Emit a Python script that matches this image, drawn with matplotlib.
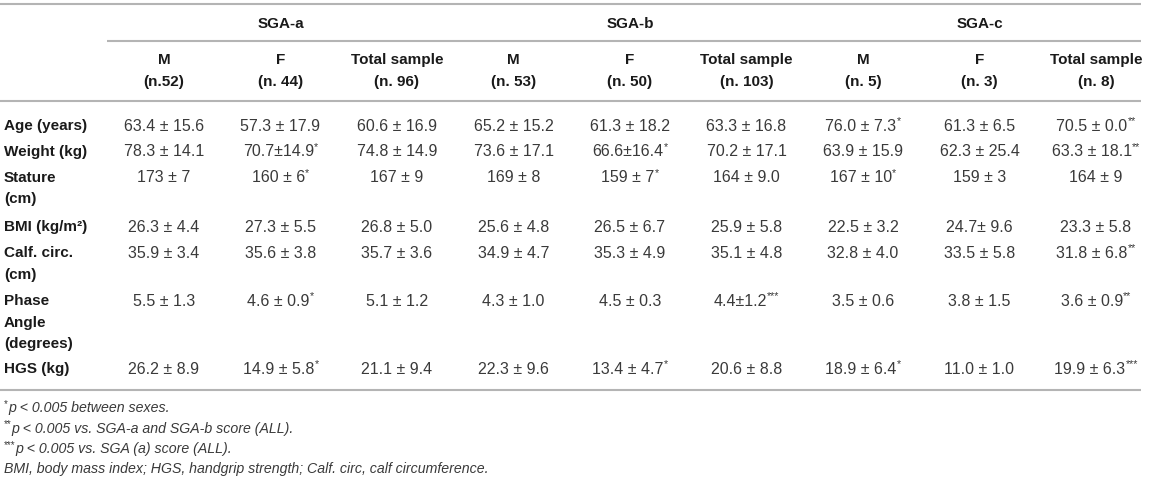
import matplotlib
matplotlib.use("Agg")
import matplotlib.pyplot as plt

# ---- data ----
groups = ["SGA-a", "SGA-b", "SGA-c"]
sub_heads = ["M", "F", "Total sample"] * 3
sub_ns = ["(n.52)", "(n. 44)", "(n. 96)", "(n. 53)", "(n. 50)", "(n. 103)",
          "(n. 5)", "(n. 3)", "(n. 8)"]
row_labels = [["Age (years)"], ["Weight (kg)"], ["Stature", "(cm)"],
              ["BMI (kg/m²)"], ["Calf. circ.", "(cm)"],
              ["Phase", "Angle", "(degrees)"], ["HGS (kg)"]]
age = ["63.4 ± 15.6", "57.3 ± 17.9", "60.6 ± 16.9", "65.2 ± 15.2", "61.3 ± 18.2",
       "63.3 ± 16.8", "76.0 ± 7.3*", "61.3 ± 6.5", "70.5 ± 0.0**"]
weight = ["78.3 ± 14.1", "70.7±14.9*", "74.8 ± 14.9", "73.6 ± 17.1", "66.6±16.4*",
          "70.2 ± 17.1", "63.9 ± 15.9", "62.3 ± 25.4", "63.3 ± 18.1**"]
stature = ["173 ± 7", "160 ± 6*", "167 ± 9", "169 ± 8", "159 ± 7*",
           "164 ± 9.0", "167 ± 10*", "159 ± 3", "164 ± 9"]
bmi = ["26.3 ± 4.4", "27.3 ± 5.5", "26.8 ± 5.0", "25.6 ± 4.8", "26.5 ± 6.7",
       "25.9 ± 5.8", "22.5 ± 3.2", "24.7± 9.6", "23.3 ± 5.8"]
calf = ["35.9 ± 3.4", "35.6 ± 3.8", "35.7 ± 3.6", "34.9 ± 4.7", "35.3 ± 4.9",
        "35.1 ± 4.8", "32.8 ± 4.0", "33.5 ± 5.8", "31.8 ± 6.8**"]
phase = ["5.5 ± 1.3", "4.6 ± 0.9*", "5.1 ± 1.2", "4.3 ± 1.0", "4.5 ± 0.3",
         "4.4±1.2***", "3.5 ± 0.6", "3.8 ± 1.5", "3.6 ± 0.9**"]
hgs = ["26.2 ± 8.9", "14.9 ± 5.8*", "21.1 ± 9.4", "22.3 ± 9.6", "13.4 ± 4.7*",
       "20.6 ± 8.8", "18.9 ± 6.4*", "11.0 ± 1.0", "19.9 ± 6.3***"]
rows = [age, weight, stature, bmi, calf, phase, hgs]
footnotes = [("*", "p < 0.005 between sexes."),
             ("**", "p < 0.005 vs. SGA-a and SGA-b score (ALL)."),
             ("***", "p < 0.005 vs. SGA (a) score (ALL)."),
             ("", "BMI, body mass index; HGS, handgrip strength; Calf. circ, calf circumference.")]

# ---- layout ----
W, H = 1149, 479
fig = plt.figure(figsize=(W / 100, H / 100), dpi=100)
ax = fig.add_axes([0, 0, 1, 1])
ax.set_xlim(0, W)
ax.set_ylim(H, 0)
ax.axis("off")

FONT = "Liberation Sans"
FS_LBL = 11.0
FS_VAL = 11.5
FS_FN = 10.2
LBL = "#1a1a1a"
VAL = "#3a3a3a"
LINE = "#b4b4b4"
col_x = [164 + 116.5 * i for i in range(9)]
renderer = fig.canvas.get_renderer()


def width_of(t):
    return t.get_window_extent(renderer=renderer).width


def star_text(xc, y, s, fs=FS_VAL, color=VAL):
    core = s.rstrip("*")
    stars = s[len(core):]
    t1 = ax.text(0, y, core, fontsize=fs, family=FONT, color=color,
                 ha="left", va="center")
    w1 = width_of(t1)
    w2 = 0
    t2 = None
    if stars:
        t2 = ax.text(0, y - 4.5, stars, fontsize=fs * 0.68, family=FONT, color=color,
                     ha="left", va="center")
        w2 = width_of(t2)
    x0 = xc - (w1 + w2) / 2
    t1.set_x(x0)
    if t2 is not None:
        t2.set_x(x0 + w1 + 0.3)


# lines
for x0, x1, y in [(0, 1141, 4), (107, 1141, 41), (0, 1141, 101), (0, 1141, 390)]:
    ax.plot([x0, x1], [y, y], color=LINE, lw=1.5, solid_capstyle="butt")

# group headers
for gi, g in enumerate(groups):
    ax.text(col_x[gi * 3 + 1], 24, g, fontsize=FS_LBL, family=FONT, weight="bold",
            color=LBL, ha="center", va="center")
for i in range(9):
    ax.text(col_x[i], 60, sub_heads[i], fontsize=FS_LBL, family=FONT, weight="bold",
            color=LBL, ha="center", va="center")
    ax.text(col_x[i], 82, sub_ns[i], fontsize=FS_LBL, family=FONT, weight="bold",
            color=LBL, ha="center", va="center")

# body
row_y = [126, 152, 178, 227, 253, 301, 369]
sub_step = 21.5
for ri, (labels, vals) in enumerate(zip(row_labels, rows)):
    y = row_y[ri]
    for li, lab in enumerate(labels):
        ax.text(4, y + li * sub_step, lab, fontsize=FS_LBL, family=FONT, weight="bold",
                color=LBL, ha="left", va="center")
    for ci, v in enumerate(vals):
        star_text(col_x[ci], y, v)

# footnotes
fn_y = [408, 428.5, 449, 469]
for (stars, txt), y in zip(footnotes, fn_y):
    x = 4
    if stars:
        t = ax.text(x, y - 4, stars, fontsize=FS_FN * 0.68, family=FONT, color=VAL,
                    ha="left", va="center")
        x += width_of(t)
    ax.text(x, y, txt, fontsize=FS_FN, family=FONT, style="italic", color=VAL,
            ha="left", va="center")

fig.savefig("out.png", dpi=100)
